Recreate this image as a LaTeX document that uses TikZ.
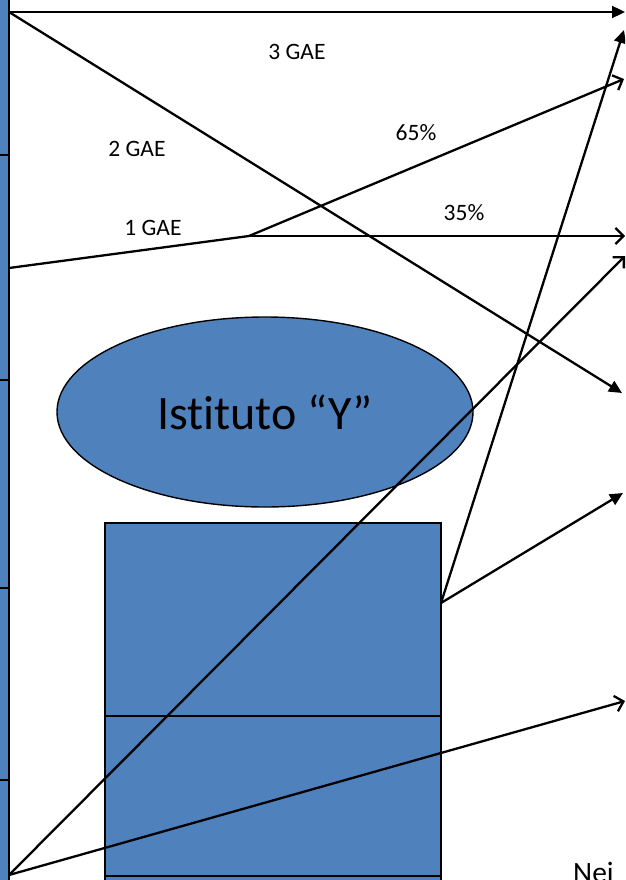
\documentclass[tikz,border=0pt]{standalone}
\usepackage{fontspec}
\setmainfont{Carlito}[Ligatures={NoCommon}]
\usepackage{tikz}
\usetikzlibrary{arrows.meta,shapes.geometric}
\usepackage{xcolor}
\definecolor{BoxBlue}{HTML}{4F81BD}
\tikzset{
  stackbox/.style={draw=black,fill=BoxBlue,line width=2pt},
  instnode/.style={ellipse,draw=black,fill=BoxBlue,line width=1.4pt,minimum width=416pt,minimum height=190pt,font=\fontsize{48}{56}\selectfont},
  gaelabel/.style={inner sep=0pt,font=\fontsize{23.5}{28}\selectfont},
  solidarrow/.style={-{Triangle[length=13pt,width=12pt]},line width=2.3pt},
  openarrow/.style={-{Straight Barb[length=8pt,width=16pt]},line width=2.3pt}
}

\begin{document}
\begin{tikzpicture}[x=1pt,y=-1pt]
\useasboundingbox (0,0) rectangle (625,880);
\clip (0,0) rectangle (625,880);
% left strip and stacked boxes
\foreach \ya/\yb in {-30/155,155/380,380/588,588/780,780/920}
  \draw[stackbox] (-40,\ya) rectangle (9,\yb);
\foreach \ya/\yb in {523/716,716/876,876/960}
  \draw[stackbox] (105,\ya) rectangle (441,\yb);
\node[instnode] (inst) at (265,412) {Istituto “Y”};
% labels
\node[gaelabel] (gae3) at (297,52) {3 GAE};
\node[gaelabel] (gae2) at (137,149) {2 GAE};
\node[gaelabel] (gae1) at (153,228) {1 GAE};
\node[gaelabel] (p65) at (416,133) {65\%};
\node[gaelabel] (p35) at (464,213) {35\%};
\node[anchor=base west,inner sep=0pt,font=\fontsize{29.5}{34}\selectfont] (nei) at (573,882) {Nei};
% sources and targets
\coordinate (top) at (9,12);
\coordinate (mid) at (9,268);
\coordinate (bot) at (9,875);
\coordinate (split) at (249,236);
\coordinate (src) at (441,603);
\coordinate (t1) at (625,12);
\coordinate (t2) at (624,30);
\coordinate (t3) at (624,79);
\coordinate (t4) at (625,236);
\coordinate (t5) at (625,256);
\coordinate (t6) at (622,393);
\coordinate (t7) at (623,493);
\coordinate (t8) at (625,701);
% connectors
\draw[solidarrow] (top) -- (t1);
\draw[solidarrow] (top) -- (t6);
\draw[line width=2.3pt] (mid) -- (split);
\draw[openarrow] (split) -- (t3);
\draw[openarrow] (split) -- (t4);
\draw[solidarrow] (src) -- (t2);
\draw[solidarrow] (src) -- (t7);
\draw[openarrow] (bot) -- (t5);
\draw[openarrow] (bot) -- (t8);
\end{tikzpicture}
\end{document}
